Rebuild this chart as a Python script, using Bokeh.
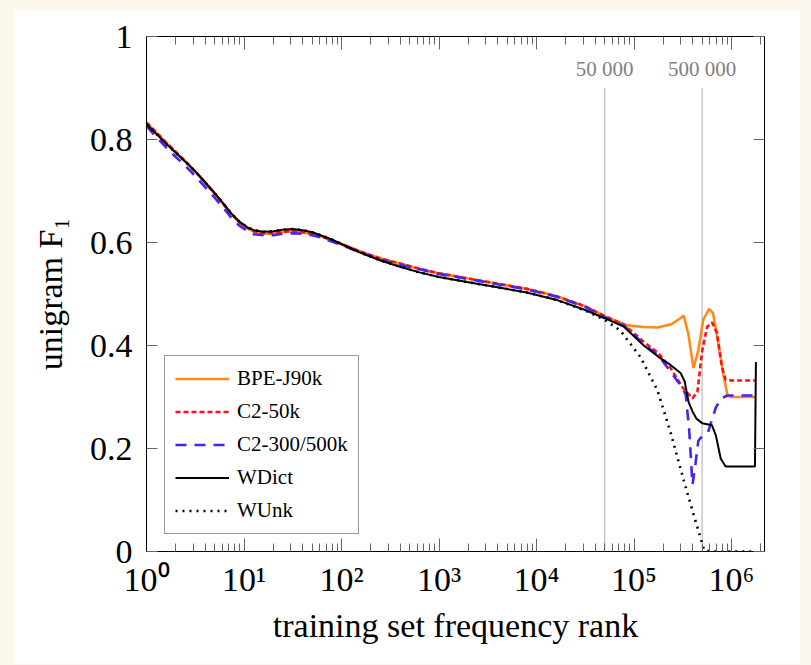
from bokeh.plotting import figure
from bokeh.models import (LogAxis, LinearAxis, Legend, LegendItem, Range1d,
                          FixedTicker, CustomJSTickFormatter)
from bokeh.core.properties import value
from bokeh.embed import file_html
from bokeh.resources import INLINE

# ---------------- data ----------------
head_rank = [1, 1.26, 1.58, 2.0, 2.5, 3.16, 3.98, 4.9, 6.3, 7.2, 8.9, 10.7, 12.6, 15.8,
             20, 25.1, 31.6, 39.8, 50.1, 63.1, 79.4, 100, 158, 251, 398, 631, 1000,
             2000, 3980, 7940, 15800, 31600, 50100]

bpe_rank = head_rank + [85100, 126000, 174000, 240000, 295000, 324000, 363000, 407000,
                        457000, 513000, 589000, 646000, 724000, 832000, 912000, 1000000, 1780000]
bpe_f1 = [.832, .813, .794, .775, .758, .738, .717, .697, .672, .658, .640, .628, .621,
          .617, .618, .621, .622, .620, .616, .611, .604, .597, .582, .569, .559, .549,
          .540, .530, .520, .510, .496, .476, .457,
          .439, .436, .435, .441, .452, .458, .42, .356, .39, .45, .471, .463, .41, .34,
          .303, .30, .30]

c50_rank = head_rank + [79400, 126000, 178000, 234000, 316000, 398000, 447000, 501000,
                        562000, 631000, 708000, 794000, 871000, 1000000, 1780000]
c50_f1 = [.833, .814, .795, .776, .758, .738, .717, .697, .672, .658, .640, .629, .622,
          .618, .618, .621, .622, .620, .617, .611, .605, .597, .582, .569, .559, .549,
          .540, .530, .520, .510, .496, .476, .457,
          .44, .407, .385, .358, .318, .297, .31, .39, .436, .445, .425, .36, .333, .332, .332]

c300_rank = head_rank + [79400, 126000, 178000, 234000, 302000, 339000, 367000, 398000,
                         427000, 457000, 501000, 575000, 692000, 794000, 912000, 1000000, 1780000]
c300_f1 = [.826, .805, .785, .766, .749, .729, .708, .689, .665, .651, .633, .623, .616,
           .614, .614, .617, .618, .617, .614, .609, .602, .595, .580, .567, .557, .548,
           .539, .529, .519, .509, .495, .475, .455,
           .438, .403, .38, .351, .322, .305, .24, .13, .17, .215, .224, .232, .28, .298,
           .303, .303, .303]

wdict_rank = head_rank + [79400, 126000, 178000, 234000, 302000, 331000, 363000, 398000,
                          437000, 501000, 631000, 692000, 776000, 871000, 1740000, 1780000]
wdict_f1 = [.830, .811, .792, .774, .757, .738, .717, .698, .673, .659, .641, .630, .624,
            .621, .622, .625, .626, .624, .620, .613, .606, .597, .580, .565, .553, .542,
            .533, .523, .513, .503, .489, .469, .453,
            .436, .40, .378, .363, .346, .33, .29, .272, .258, .249, .245, .225, .18, .165,
            .165, .368]

wunk_rank = head_rank + [72400, 117000, 174000, 234000, 324000, 407000, 479000, 525000,
                         631000, 1000000, 1780000]
wunk_f1 = [.830, .811, .792, .774, .757, .738, .717, .698, .673, .659, .641, .630, .624,
           .621, .622, .625, .626, .624, .620, .613, .606, .597, .580, .565, .553, .542,
           .533, .523, .513, .503, .489, .468, .450,
           .429, .377, .313, .235, .138, .073, .028, .002, 0, 0, 0]

marker_rank = [50000, 500000]
marker_labels = ["50 000", "500 000"]
marker_top = [0.9, 0.9]
marker_label_y = [0.936, 0.936]

x_major = [1, 10, 100, 1000, 10000, 100000, 1000000]
y_major = [0, 0.2, 0.4, 0.6, 0.8, 1.0]

SERIF = "Liberation Serif"

# ---------------- figure ----------------
p = figure(width=786, height=654, x_axis_type="log",
           x_range=Range1d(1, 2.18e6), y_range=Range1d(0, 1),
           output_backend="svg", toolbar_location=None,
           min_border_left=132, min_border_right=36, min_border_top=26,
           min_border_bottom=113)
p.background_fill_color = "white"
p.border_fill_color = "white"
p.outline_line_color = "black"
p.outline_line_width = 1
p.grid.visible = False

x_minor = [m * d for d in x_major for m in range(2, 10)]
xt = FixedTicker(ticks=x_major, minor_ticks=x_minor)
yt = FixedTicker(ticks=y_major)

xfmt = CustomJSTickFormatter(code="""
const sup = "\u2070\u00b9\u00b2\u00b3\u2074\u2075\u2076\u2077\u2078\u2079";
const e = Math.round(Math.log10(tick));
return "10" + sup[e];
""")
yfmt = CustomJSTickFormatter(code="""
if (Math.abs(tick) < 1e-9) return "0";
if (Math.abs(tick - 1) < 1e-9) return "1";
return tick.toFixed(1);
""")
empty = CustomJSTickFormatter(code="return '';")

xa = p.xaxis[0]
xa.ticker = xt
xa.formatter = xfmt
ya = p.yaxis[0]
ya.ticker = yt
ya.formatter = yfmt

for ax in (xa, ya):
    ax.axis_line_color = "black"
    ax.major_tick_out = 0
    ax.minor_tick_out = 0
    ax.major_tick_line_color = "#666666"
    ax.minor_tick_line_color = "#666666"
    ax.major_label_text_font = SERIF
    ax.major_label_text_color = "black"
    ax.axis_label_text_font = SERIF
    ax.axis_label_text_font_size = "34px"
    ax.axis_label_text_font_style = "normal"
    ax.axis_label_text_color = "black"

xa.major_label_text_font_size = "34px"
xa.major_tick_in = 13
xa.minor_tick_in = 8
xa.major_label_standoff = 9
xa.axis_label = "training set frequency rank"
xa.axis_label_standoff = 6

ya.major_label_text_font_size = "34px"
ya.major_tick_in = 11
ya.minor_tick_line_color = None
ya.major_label_standoff = 14
ya.axis_label = "unigram F\u2081"
ya.axis_label_standoff = 18

top = LogAxis(ticker=xt, formatter=empty, major_tick_in=13, major_tick_out=0,
              minor_tick_in=8, minor_tick_out=0, major_label_text_font_size="0px",
              major_label_standoff=0, major_tick_line_color="#666666",
              minor_tick_line_color="#666666", axis_line_color="black")
right = LinearAxis(ticker=yt, formatter=empty, major_tick_in=11, major_tick_out=0,
                   minor_tick_line_color=None, major_label_text_font_size="0px",
                   major_label_standoff=0, major_tick_line_color="#666666",
                   axis_line_color="black")
p.add_layout(top, "above")
p.add_layout(right, "right")

# vertical markers
p.segment(x0=marker_rank, y0=[0, 0], x1=marker_rank, y1=marker_top,
          line_color="#c8c8c8", line_width=1.5)
p.text(x=marker_rank, y=marker_label_y, text=marker_labels,
       text_font=value(SERIF), text_font_size="21px", text_color="#808080",
       text_align="center", text_baseline="middle")

# series
r1 = p.line(bpe_rank, bpe_f1, line_color="#ff8a1c", line_width=2.6)
r2 = p.line(c50_rank, c50_f1, line_color="#ff1010", line_width=2.6, line_dash="5 3")
r3 = p.line(c300_rank, c300_f1, line_color="#4a22f0", line_width=2.6, line_dash="11 8")
r4 = p.line(wdict_rank, wdict_f1, line_color="black", line_width=2)
r5 = p.line(wunk_rank, wunk_f1, line_color="black", line_width=2.6, line_dash="2 5")

legend = Legend(items=[
    LegendItem(label="BPE-J90k", renderers=[r1]),
    LegendItem(label="C2-50k", renderers=[r2]),
    LegendItem(label="C2-300/500k", renderers=[r3]),
    LegendItem(label="WDict", renderers=[r4]),
    LegendItem(label="WUnk", renderers=[r5]),
], location=(18, 17))
legend.label_text_font = SERIF
legend.label_text_font_size = "21px"
legend.label_text_color = "black"
legend.glyph_width = 54
legend.glyph_height = 25
legend.label_height = 25
legend.spacing = 8
legend.padding = 10
legend.margin = 0
legend.label_standoff = 8
legend.border_line_color = "#333333"
legend.border_line_width = 1
legend.background_fill_color = "white"
legend.background_fill_alpha = 1
p.add_layout(legend)

html = file_html(p, INLINE)
css = ("<style>html, body { background: #fcf8ee !important; } "
       "body { margin: 0 !important; padding: 10px 0 0 14px !important; "
       "box-sizing: border-box; }</style>")
html = html.replace("</head>", css + "</head>", 1)
open("out.html", "w", encoding="utf-8").write(html)
